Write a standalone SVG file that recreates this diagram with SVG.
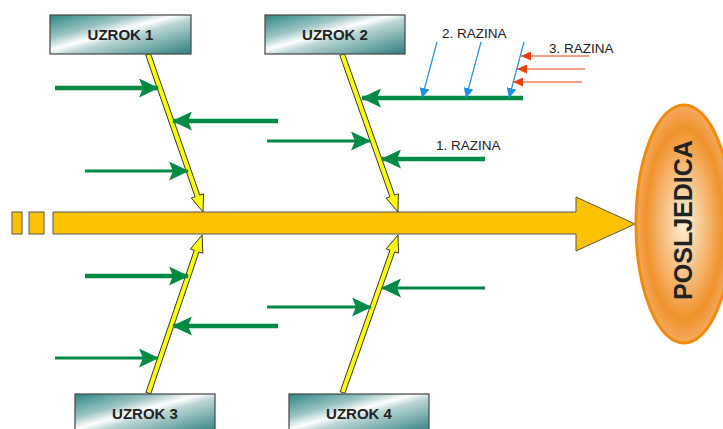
<svg xmlns="http://www.w3.org/2000/svg" width="723" height="429" viewBox="0 0 723 429">
<style>
.box{stroke:#454545;stroke-width:1.2;fill:url(#boxg)}
.bt{font-family:"Liberation Sans",Arial,sans-serif;font-weight:bold;font-size:15px;fill:#222;text-anchor:middle}
.lbl{font-family:"Liberation Sans",Arial,sans-serif;font-size:13.5px;fill:#222}
.yel{fill:#ffff00;stroke:#333;stroke-width:0.9;stroke-linejoin:miter}
.g4{stroke:#008a44;stroke-width:4.5;fill:none;marker-end:url(#gh)}
.g3{stroke:#008a44;stroke-width:3;fill:none;marker-end:url(#gh)}
.bl{stroke:#1e90e8;stroke-width:1.2;fill:none;marker-end:url(#bh)}
.rd{stroke:#e8400c;stroke-width:1.2;fill:none;marker-end:url(#rh)}
</style>
<defs>
<linearGradient id="boxg" x1="0" y1="0" x2="1" y2="1">
<stop offset="0" stop-color="#2e8585"/>
<stop offset="0.3" stop-color="#9cc4c4"/>
<stop offset="0.45" stop-color="#ffffff"/>
<stop offset="0.55" stop-color="#bcd6d6"/>
<stop offset="1" stop-color="#2e7e7e"/>
</linearGradient>
<radialGradient id="ellg" cx="0.5" cy="0.5" r="0.5">
<stop offset="0" stop-color="#fdf0d6"/>
<stop offset="0.45" stop-color="#f6bd7e"/>
<stop offset="0.8" stop-color="#f0922c"/>
<stop offset="1" stop-color="#f5aa60"/>
</radialGradient>
<marker id="gh" markerUnits="userSpaceOnUse" markerWidth="20" markerHeight="19" refX="19" refY="9.5" orient="auto" viewBox="0 0 20 19">
<path d="M0,0 L20,9.5 L0,19 L4,9.5 Z" fill="#008a44"/>
</marker>
<marker id="bh" markerUnits="userSpaceOnUse" markerWidth="10" markerHeight="10" refX="10" refY="5" orient="auto" viewBox="0 0 10 10">
<path d="M0,0 L10,5 L0,10 Z" fill="#1e90e8"/>
</marker>
<marker id="rh" markerUnits="userSpaceOnUse" markerWidth="10" markerHeight="9" refX="10" refY="4.5" orient="auto" viewBox="0 0 10 9">
<path d="M0,0 L10,4.5 L0,9 Z" fill="#e8400c"/>
</marker>
<polygon id="yarrow" points="-150,-2.5 0,-2.5 0,-6.5 17,0 0,6.5 0,2.5 -150,2.5"/>
</defs>

<g id="spine">
<rect x="12" y="212" width="10" height="22" fill="#fdc300" stroke="#555" stroke-width="1"/>
<rect x="29" y="212" width="15" height="22" fill="#fdc300" stroke="#555" stroke-width="1"/>
<path d="M53,212 H576 V197 L635,224 L576,251 V234 H53 Z" fill="#fdc300" stroke="#555" stroke-width="1"/>
</g>

<g id="posljedica">
<ellipse cx="684" cy="224" rx="48" ry="119" fill="url(#ellg)" stroke="#f28a10" stroke-width="3"/>
<text transform="translate(692,220) rotate(-90)" font-family="'Liberation Sans',Arial,sans-serif" font-weight="bold" font-size="25" fill="#222" text-anchor="middle">POSLJEDICA</text>
</g>

<g id="connectors">
<use href="#yarrow" class="yel" transform="translate(148,54) rotate(70.8) translate(150.3,0)"/>
<use href="#yarrow" class="yel" transform="translate(342,54) rotate(70.5) translate(150.6,0)"/>
<use href="#yarrow" class="yel" transform="translate(148,394) rotate(-71.2) translate(150.9,0)"/>
<use href="#yarrow" class="yel" transform="translate(342,394) rotate(-70.6) translate(151.6,0)"/>

<line class="g4" x1="55" y1="88" x2="158" y2="88"/>
<line class="g4" x1="278" y1="121" x2="173" y2="121"/>
<line class="g3" x1="85" y1="171" x2="188" y2="171"/>
<line class="g4" x1="523" y1="98" x2="362" y2="98"/>
<line class="g3" x1="267" y1="141" x2="370" y2="141"/>
<line class="g4" x1="485" y1="159" x2="382" y2="159"/>

<line class="g4" x1="85" y1="276" x2="188" y2="276"/>
<line class="g4" x1="278" y1="326" x2="173" y2="326"/>
<line class="g3" x1="55" y1="358" x2="158" y2="358"/>
<line class="g3" x1="267" y1="307" x2="371" y2="307"/>
<line class="g3" x1="485" y1="288" x2="382" y2="288"/>

<line class="bl" x1="437" y1="42" x2="422" y2="98"/>
<line class="bl" x1="481" y1="42" x2="466" y2="98"/>
<line class="bl" x1="524" y1="42" x2="509" y2="98"/>

<line class="rd" x1="589" y1="56" x2="521" y2="56"/>
<line class="rd" x1="585" y1="69" x2="517" y2="69"/>
<line class="rd" x1="582" y1="82" x2="513" y2="82"/>
</g>

<g id="uzrok1"><rect class="box" x="50" y="15" width="141" height="39"/><text class="bt" x="120.5" y="40">UZROK 1</text></g>
<g id="uzrok2"><rect class="box" x="265" y="15" width="140" height="39"/><text class="bt" x="335" y="40">UZROK 2</text></g>
<g id="uzrok3"><rect class="box" x="75" y="394" width="140" height="39"/><text class="bt" x="145" y="419">UZROK 3</text></g>
<g id="uzrok4"><rect class="box" x="289" y="394" width="140" height="39"/><text class="bt" x="359" y="419">UZROK 4</text></g>

<g id="labels">
<text class="lbl" x="436" y="150">1. RAZINA</text>
<text class="lbl" x="442" y="38">2. RAZINA</text>
<text class="lbl" x="549" y="53">3. RAZINA</text>
</g>
</svg>
